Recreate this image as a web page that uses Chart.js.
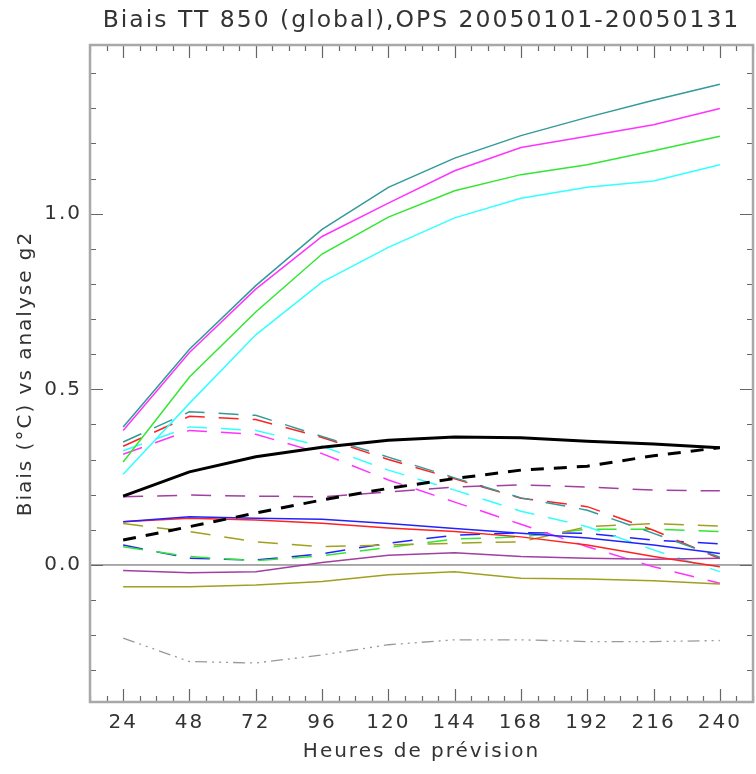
<!DOCTYPE html>
<html>
<head>
<meta charset="utf-8">
<script src="https://cdn.jsdelivr.net/npm/chart.js@4.4.1/dist/chart.umd.min.js"></script>
<style>
  html, body { margin: 0; padding: 0; background: #fff; }
  canvas { display: block; }
</style>
</head>
<body>
<canvas id="biais" width="756" height="774"></canvas>
<script>
// forecast hours (x axis)
const hours = [24, 48, 72, 96, 120, 144, 168, 192, 216, 240];
const yTickLabels = [0.0, 0.5, 1.0];

// solid curves
const tealSolid    = [0.393, 0.614, 0.795, 0.955, 1.075, 1.158, 1.222, 1.274, 1.323, 1.368];
const magentaSolid = [0.383, 0.605, 0.785, 0.935, 1.030, 1.122, 1.188, 1.220, 1.253, 1.299];
const greenSolid   = [0.293, 0.535, 0.720, 0.885, 0.990, 1.065, 1.111, 1.139, 1.179, 1.220];
const cyanSolid    = [0.258, 0.460, 0.655, 0.805, 0.904, 0.988, 1.044, 1.075, 1.093, 1.139];
const blackSolid   = [0.196, 0.265, 0.308, 0.335, 0.355, 0.364, 0.362, 0.352, 0.344, 0.334];
const blueSolid    = [0.123, 0.137, 0.133, 0.130, 0.118, 0.104, 0.090, 0.077, 0.057, 0.033];
const redSolid     = [0.123, 0.133, 0.128, 0.119, 0.105, 0.095, 0.080, 0.057, 0.024, -0.005];
const purpleSolid  = [-0.016, -0.022, -0.019, 0.007, 0.028, 0.035, 0.024, 0.019, 0.016, 0.019];
const oliveSolid   = [-0.062, -0.062, -0.057, -0.047, -0.028, -0.019, -0.038, -0.040, -0.045, -0.054];

// dashed curves
const blackDash    = [0.071, 0.109, 0.148, 0.185, 0.218, 0.246, 0.270, 0.281, 0.311, 0.334];
const purpleDash   = [0.194, 0.199, 0.196, 0.194, 0.208, 0.222, 0.228, 0.222, 0.213, 0.211];
const tealDash     = [0.350, 0.436, 0.426, 0.366, 0.307, 0.248, 0.191, 0.156, 0.090, 0.022];
const redDash      = [0.338, 0.423, 0.414, 0.363, 0.300, 0.245, 0.190, 0.166, 0.099, 0.018];
const cyanDash     = [0.325, 0.393, 0.383, 0.338, 0.270, 0.213, 0.153, 0.109, 0.043, -0.019];
const magentaDash  = [0.315, 0.383, 0.372, 0.317, 0.242, 0.179, 0.116, 0.052, -0.005, -0.052];
const oliveDash    = [0.118, 0.095, 0.066, 0.052, 0.057, 0.062, 0.066, 0.109, 0.118, 0.111];
const greenDash    = [0.052, 0.024, 0.012, 0.026, 0.050, 0.074, 0.080, 0.102, 0.102, 0.095];
const blueDash     = [0.057, 0.019, 0.014, 0.032, 0.062, 0.085, 0.092, 0.090, 0.071, 0.060];

// dash-dot-dot-dot grey curve
const greyDashDot  = [-0.208, -0.275, -0.279, -0.256, -0.227, -0.213, -0.213, -0.218, -0.218, -0.215];

const DASH = [20, 14];
const DASH_BLACK = [13, 10];
const DASH_DOTS = [12, 5, 2, 5, 2, 5, 2, 5];

function serie(values, color, dash, width) {
    return {
        data: hours.map((h, i) => ({ x: h, y: values[i] })),
        borderColor: color,
        borderWidth: width || 1.5,
        borderDash: dash || [],
        pointRadius: 0,
        tension: 0,
        fill: false
    };
}

// IDL style box : frame, inward ticks on the 4 sides, zero line
const idlFrame = {
    id: 'idlFrame',
    beforeLayout(chart) { chart.ctx.letterSpacing = '2px'; },
    beforeDraw(chart) { chart.ctx.letterSpacing = '2px'; },
    beforeDatasetsDraw(chart) {
        const { ctx, chartArea: a, scales: { x, y } } = chart;
        ctx.save();
        ctx.setLineDash([]);

        const y0 = y.getPixelForValue(0);
        ctx.strokeStyle = '#555';
        ctx.lineWidth = 1;
        ctx.beginPath();
        ctx.moveTo(a.left, y0);
        ctx.lineTo(a.right, y0);
        ctx.stroke();

        ctx.strokeStyle = '#666';
        ctx.lineWidth = 1.2;
        ctx.beginPath();
        for (let v = 12; v <= 252; v += 6) {
            const px = Math.round(x.getPixelForValue(v)) + 0.5;
            const len = v % 24 === 0 ? 13 : 6;
            ctx.moveTo(px, a.bottom); ctx.lineTo(px, a.bottom - len);
            ctx.moveTo(px, a.top); ctx.lineTo(px, a.top + len);
        }
        for (let k = -3; k <= 14; k++) {
            const py = Math.round(y.getPixelForValue(k / 10)) + 0.5;
            const len = k % 5 === 0 ? 13 : 6;
            ctx.moveTo(a.left, py); ctx.lineTo(a.left + len, py);
            ctx.moveTo(a.right, py); ctx.lineTo(a.right - len, py);
        }
        ctx.stroke();

        ctx.strokeStyle = '#a8a8a8';
        ctx.lineWidth = 2.5;
        ctx.strokeRect(a.left, a.top, a.right - a.left, a.bottom - a.top);
        ctx.restore();
    }
};

const txt = { family: 'DejaVu Sans', size: 20, weight: 'normal' };

new Chart(document.getElementById('biais'), {
    type: 'line',
    data: {
        datasets: [
            serie(blackSolid, '#000000', null, 3),
            serie(blackDash, '#000000', DASH_BLACK, 3),
            serie(tealSolid, '#339999'),
            serie(magentaSolid, '#ff33ff'),
            serie(greenSolid, '#33e633'),
            serie(cyanSolid, '#33ffff'),
            serie(blueSolid, '#2222ff'),
            serie(redSolid, '#ff2222'),
            serie(purpleSolid, '#a040a0'),
            serie(oliveSolid, '#a0a020'),
            serie(purpleDash, '#a040a0', DASH),
            serie(tealDash, '#339999', DASH),
            serie(redDash, '#ff2222', DASH),
            serie(cyanDash, '#33ffff', DASH),
            serie(magentaDash, '#ff33ff', DASH),
            serie(oliveDash, '#a0a020', DASH),
            serie(greenDash, '#33e633', DASH),
            serie(blueDash, '#2222ff', DASH),
            serie(greyDashDot, '#999999', DASH_DOTS, 1.3)
        ]
    },
    options: {
        responsive: false,
        animation: false,
        layout: { padding: { right: 3 } },
        plugins: {
            legend: { display: false },
            tooltip: { enabled: false },
            title: {
                display: true,
                fullSize: false,
                text: 'Biais TT 850 (global),OPS 20050101-20050131',
                color: '#333',
                font: { family: 'DejaVu Sans', size: 23.5, weight: 'normal' },
                padding: { top: 7, bottom: 9.8 }
            }
        },
        scales: {
            x: {
                type: 'linear',
                min: 12,
                max: 252,
                afterBuildTicks: s => { s.ticks = hours.map(v => ({ value: v })); },
                afterFit: s => { s.height = 72; },
                grid: { display: false, drawTicks: false },
                border: { display: false },
                ticks: { color: '#333', font: txt, padding: 9, maxRotation: 0, autoSkip: false,
                         callback: v => String(v) },
                title: { display: true, text: 'Heures de prévision', color: '#333', font: txt,
                         padding: { top: 0, bottom: 10 } }
            },
            y: {
                min: -0.39,
                max: 1.48,
                afterBuildTicks: s => { s.ticks = yTickLabels.map(v => ({ value: v })); },
                afterFit: s => { s.width = 90; },
                grid: { display: false, drawTicks: false },
                border: { display: false },
                ticks: { color: '#333', font: txt, padding: 8, callback: v => v.toFixed(1) },
                title: { display: true, text: 'Biais (°C) vs analyse g2', color: '#333', font: txt,
                         padding: { top: 14, bottom: 0 } }
            }
        }
    },
    plugins: [idlFrame]
});
</script>
</body>
</html>
